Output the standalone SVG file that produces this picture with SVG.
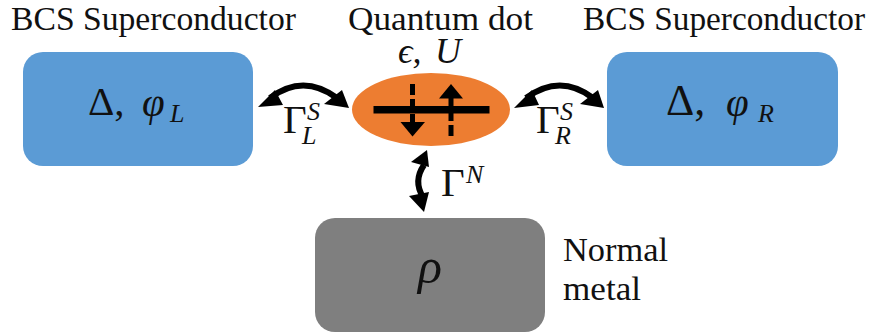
<svg xmlns="http://www.w3.org/2000/svg" width="873" height="334" viewBox="0 0 873 334">
<style>
text{font-family:"Liberation Serif",serif;fill:#111}
.lab{font-size:33px}
.m{font-size:41px}
.i{font-style:italic}
.sub{font-size:26px;font-style:italic}
.blue{fill:#5b9bd5}
.con{fill:none;stroke:#000;stroke-width:6}
.head{fill:#000}
.dash{stroke:#000;stroke-width:5;stroke-dasharray:11 4;fill:none}
</style>
<rect width="873" height="334" fill="#fff"/>
<g id="left-superconductor">
<rect class="blue" x="23" y="52" width="230" height="114" rx="20"/>
<text class="lab" x="11" y="30" textLength="285" lengthAdjust="spacingAndGlyphs">BCS Superconductor</text>
<text class="m" x="88" y="115">Δ,</text>
<text class="m i" x="142" y="116">φ<tspan class="sub" x="170" y="122">L</tspan></text>
</g>
<g id="right-superconductor">
<rect class="blue" x="607" y="52" width="231" height="114" rx="20"/>
<text class="lab" x="583" y="30" textLength="282" lengthAdjust="spacingAndGlyphs">BCS Superconductor</text>
<text x="666" y="115" style="font-size:44px">Δ,</text>
<text class="m i" x="726" y="116">φ<tspan class="sub" x="758" y="122">R</tspan></text>
</g>
<g id="quantum-dot">
<ellipse cx="431" cy="109.500" rx="79" ry="36.500" fill="#ed7d31"/>
<text class="lab" x="348" y="30" textLength="185" lengthAdjust="spacingAndGlyphs">Quantum dot</text>
<text x="398" y="63" style="font-size:36px" class="i">ϵ,<tspan x="435">U</tspan></text>
<path class="dash" d="M412.500 84V124"/>
<path class="head" d="M400.500 122H425L412.500 136.500Z"/>
<path class="dash" d="M451 136V96"/>
<path class="head" d="M439 98.500H463L451 84Z"/>
<rect x="373.500" y="106" width="116" height="7.500" fill="#000"/>
</g>
<g id="normal-metal">
<rect x="315" y="218" width="230" height="114" rx="20" fill="#7f7f7f"/>
<text class="i" x="418" y="283" style="font-size:50px">ρ</text>
<text class="lab" x="563" y="261" textLength="105" lengthAdjust="spacingAndGlyphs">Normal</text>
<text class="lab" x="563" y="300" textLength="78" lengthAdjust="spacingAndGlyphs">metal</text>
</g>
<g id="connectors">
<path class="con" d="M270 98Q303 73 337 98"/>
<path class="head" d="M258 107L275 90L283 105Z"/>
<path class="head" d="M349 108L324 104L342 90Z"/>
<path class="con" d="M526 98Q560 73 593 98"/>
<path class="head" d="M514 108L532 90L539 105Z"/>
<path class="head" d="M604 108L580 104L598 90Z"/>
<path class="con" d="M424 165Q413 181 423 197"/>
<path class="head" d="M427 150L411 162L429 167Z"/>
<path class="head" d="M424 212L409 196L429 192Z"/>
<text class="m" x="283" y="133">Γ<tspan class="sub" x="307" y="120">S</tspan><tspan class="sub" x="302" y="144">L</tspan></text>
<text class="m" x="536" y="133">Γ<tspan class="sub" x="560" y="120">S</tspan><tspan class="sub" x="555" y="144">R</tspan></text>
<text class="m" x="441" y="196">Γ<tspan class="sub" x="466" y="183">N</tspan></text>
</g>
</svg>
